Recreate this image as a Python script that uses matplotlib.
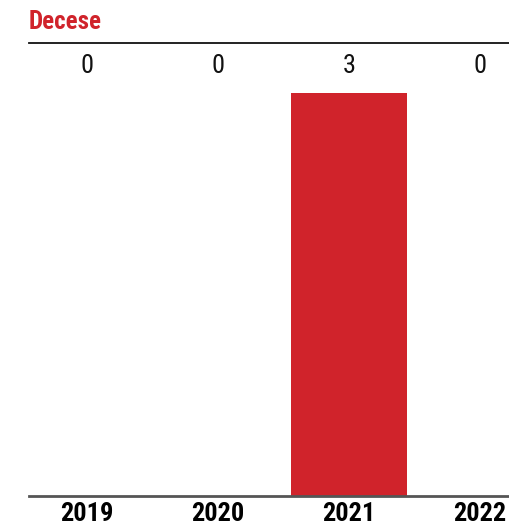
import matplotlib
matplotlib.use("Agg")
import matplotlib.pyplot as plt
from matplotlib import font_manager

years = ["2019", "2020", "2021", "2022"]
deaths = [0, 0, 3, 0]

names = {f.name for f in font_manager.fontManager.ttflist}
candidates = ["Liberation Sans Narrow", "Roboto Condensed", "Open Sans Condensed",
              "Noto Sans Condensed", "DejaVu Sans Condensed"]
narrow = next((c for c in candidates if c in names), None)
if narrow:
    plt.rcParams['font.family'] = [narrow, 'DejaVu Sans']
    val_size, year_size, title_size = 19, 19, 18
else:
    plt.rcParams['font.family'] = ['DejaVu Sans']
    val_size, year_size, title_size = 17, 16, 15

W, H = 509, 529
fig = plt.figure(figsize=(W / 100, H / 100), dpi=100)
ax = fig.add_axes([29 / W, 33 / H, 480 / W, 453 / H])

x = range(len(years))
ax.bar(x, deaths, width=0.885, color="#d0232b")
ax.set_xlim(-0.443, 3.22)
ax.set_ylim(0, 3.372)

for s in ["left", "right"]:
    ax.spines[s].set_visible(False)
ax.spines["top"].set_color("#111111")
ax.spines["top"].set_linewidth(1.3)
ax.spines["bottom"].set_color("#555555")
ax.spines["bottom"].set_linewidth(2)

ax.set_yticks([])
ax.set_xticks(list(x))
ax.set_xticklabels(years, fontsize=year_size, fontweight="heavy")
ax.tick_params(axis="x", length=0, pad=4)

for i, v in enumerate(deaths):
    ax.text(i, 3.372 - 0.08, str(v), ha="center", va="top", fontsize=val_size, color="#111111")

fig.text(29 / W, 1 - 22 / H, "Decese", ha="left", va="center", fontsize=title_size,
         fontweight="heavy", color="#d0232b")

fig.savefig("out.png", dpi=100)
